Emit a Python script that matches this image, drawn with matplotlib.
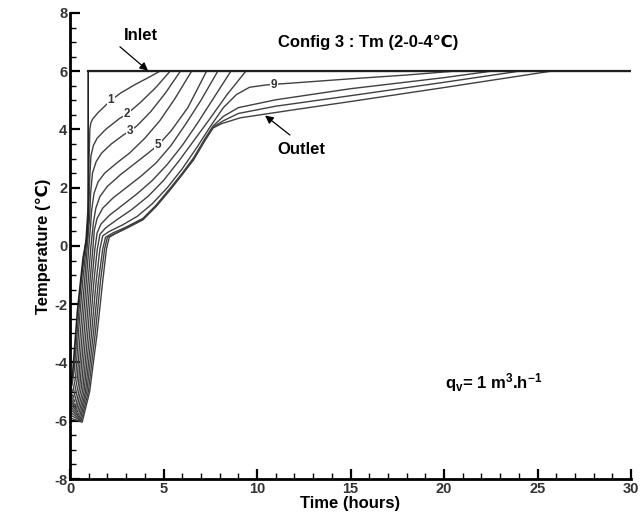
import matplotlib
matplotlib.use('Agg')
import matplotlib.pyplot as plt
from matplotlib.ticker import MultipleLocator

plt.rcParams['font.family'] = ['Liberation Sans', 'DejaVu Sans']
plt.rcParams['font.weight'] = 'bold'
plt.rcParams['axes.unicode_minus'] = False
plt.rcParams['mathtext.fontset'] = 'custom'
plt.rcParams['mathtext.rm'] = 'Liberation Sans:bold'
plt.rcParams['mathtext.bf'] = 'Liberation Sans:bold'

# inlet temperature
inlet_t = [0, 0.15, 0.4, 0.7, 0.9, 0.97, 0.97, 30]
inlet_T = [-5.0, -4.3, -2.2, -0.4, 0.3, 1.0, 6.0, 6.0]

# temperatures along the exchanger, first one after the inlet ... outlet
curve_t = [
    [0, 0.1, 0.22, 0.38, 0.6, 0.85, 0.98, 1.02, 1.06, 1.11, 1.2, 1.5, 2.1, 2.7, 3.5, 4.3, 4.8, 30],
    [0, 0.15, 0.3, 0.45, 0.68, 0.9, 1.0, 1.05, 1.12, 1.25, 1.45, 1.9, 2.67, 3.03, 3.8, 4.6, 5.35, 30],
    [0, 0.2, 0.38, 0.55, 0.78, 0.95, 1.05, 1.1, 1.2, 1.4, 1.69, 2.2, 2.85, 3.2, 3.57, 4.3, 5.1, 5.9, 30],
    [0, 0.25, 0.45, 0.65, 0.87, 1.02, 1.1, 1.15, 1.28, 1.5, 1.85, 2.5, 3.2, 4.0, 4.8, 5.6, 6.5, 30],
    [0, 0.3, 0.52, 0.75, 0.97, 1.12, 1.2, 1.25, 1.38, 1.6, 2.0, 2.7, 3.5, 4.1, 4.72, 5.4, 6.3, 7.3, 30],
    [0, 0.35, 0.6, 0.85, 1.07, 1.22, 1.3, 1.45, 1.75, 2.3, 3.0, 3.8, 4.6, 5.4, 6.2, 7.0, 7.9, 30],
    [0, 0.4, 0.68, 0.95, 1.17, 1.33, 1.45, 1.65, 2.1, 2.8, 3.6, 4.4, 5.2, 6.0, 6.8, 7.7, 8.6, 30],
    [0, 0.45, 0.75, 1.05, 1.28, 1.46, 1.6, 1.9, 2.5, 3.3, 4.2, 5.0, 5.8, 6.6, 7.4, 8.4, 9.4, 30],
    [0, 0.5, 0.83, 1.15, 1.4, 1.6, 1.75, 2.1, 2.8, 3.6, 4.4, 5.2, 6.0, 6.8, 7.5, 8.2, 8.9, 9.6,
     10.5, 12, 15, 18, 20.5, 30],
    [0, 0.55, 0.9, 1.25, 1.52, 1.75, 1.9, 2.3, 3.0, 3.9, 4.6, 5.35, 6.0, 6.6, 7.2, 7.65, 8.2, 9.0,
     11, 15, 20, 22.5, 30],
    [0, 0.6, 0.98, 1.35, 1.63, 1.85, 2.0, 2.35, 3.0, 3.9, 4.6, 5.35, 6.0, 6.6, 7.2, 7.65, 8.2, 9.0,
     11, 15, 20, 24, 30],
    [0, 0.65, 1.05, 1.45, 1.75, 1.95, 2.1, 2.4, 3.0, 3.9, 4.6, 5.35, 6.0, 6.6, 7.2, 7.65, 8.1, 9.1,
     12, 15, 20, 25.7, 30],
]
curve_T = [
    [-4.7, -4.8, -4.3, -3.0, -1.2, 0.2, 1.5, 3.0, 4.0, 4.22, 4.35, 4.58, 4.95, 5.25, 5.55, 5.82, 6.0, 6.0],
    [-4.85, -5.0, -4.5, -3.0, -1.2, 0.2, 1.2, 2.3, 3.1, 3.45, 3.7, 4.0, 4.39, 4.52, 4.95, 5.45, 6.0, 6.0],
    [-5.0, -5.2, -4.6, -3.0, -1.2, 0.2, 1.0, 1.8, 2.5, 2.9, 3.19, 3.5, 3.81, 3.95, 4.12, 4.6, 5.25, 6.0, 6.0],
    [-5.1, -5.35, -4.75, -3.0, -1.2, 0.1, 0.7, 1.2, 1.8, 2.2, 2.5, 2.85, 3.2, 3.7, 4.3, 5.05, 6.0, 6.0],
    [-5.2, -5.5, -4.85, -3.0, -1.2, 0.0, 0.5, 0.8, 1.3, 1.7, 2.05, 2.45, 2.85, 3.15, 3.47, 3.95, 4.75, 6.0, 6.0],
    [-5.3, -5.6, -4.9, -3.0, -1.2, -0.1, 0.55, 0.95, 1.3, 1.65, 2.0, 2.4, 2.85, 3.45, 4.2, 5.0, 6.0, 6.0],
    [-5.4, -5.7, -4.95, -3.0, -1.2, -0.1, 0.45, 0.75, 1.05, 1.4, 1.8, 2.25, 2.8, 3.45, 4.2, 5.1, 6.0, 6.0],
    [-5.5, -5.8, -5.0, -3.0, -1.2, -0.1, 0.4, 0.62, 0.9, 1.25, 1.72, 2.25, 2.9, 3.6, 4.3, 5.2, 6.0, 6.0],
    [-5.6, -5.88, -5.0, -3.0, -1.2, -0.1, 0.35, 0.5, 0.72, 1.02, 1.45, 2.0, 2.65, 3.4, 4.1, 4.75, 5.2, 5.45,
     5.53, 5.6, 5.74, 5.87, 6.0, 6.0],
    [-5.7, -5.95, -5.0, -3.0, -1.2, -0.1, 0.3, 0.45, 0.65, 0.95, 1.4, 1.98, 2.5, 3.02, 3.67, 4.12, 4.45, 4.75,
     5.02, 5.4, 5.78, 6.0, 6.0],
    [-5.8, -6.0, -5.0, -3.0, -1.2, -0.1, 0.3, 0.4, 0.62, 0.92, 1.37, 1.95, 2.47, 2.98, 3.63, 4.08, 4.3, 4.55,
     4.8, 5.16, 5.62, 6.0, 6.0],
    [-5.9, -6.05, -5.0, -3.0, -1.2, -0.1, 0.3, 0.42, 0.6, 0.9, 1.35, 1.92, 2.45, 2.95, 3.6, 4.05, 4.2, 4.4,
     4.68, 4.96, 5.44, 6.0, 6.0],
]

# numbers written on some of the curves
label_text = ['1', '2', '3', '5', '9']
label_t = [2.17, 3.03, 3.2, 4.72, 10.9]
label_T = [5.02, 4.52, 3.95, 3.47, 5.52]

fig = plt.figure(figsize=(6.4, 5.28), dpi=100)
ax = fig.add_axes([0.1094, 0.0928, 0.8766, 0.8826])

for t, T in zip(curve_t, curve_T):
    ax.plot(t, T, color='#404040', lw=1.0)
ax.plot(inlet_t, inlet_T, color='#202020', lw=1.2)
ax.plot(inlet_t[-2:], inlet_T[-2:], color='#202020', lw=1.6)

for s, t, T in zip(label_text, label_t, label_T):
    ax.text(t, T, s, fontsize=8.5, fontweight='bold', ha='center', va='center',
            color='#333333',
            bbox=dict(facecolor='white', edgecolor='none', pad=0.5))

arrow = dict(arrowstyle='-|>', color='k', lw=0.9, mutation_scale=12,
             shrinkA=0, shrinkB=0)
ax.text(2.9, 7.22, 'Inlet', fontsize=12, fontweight='bold', ha='left', va='center')
ax.annotate('', xy=(4.17, 6.02), xytext=(2.67, 6.84), arrowprops=arrow)
ax.text(11.1, 3.33, 'Outlet', fontsize=12, fontweight='bold', ha='left', va='center')
ax.annotate('', xy=(10.43, 4.48), xytext=(11.76, 3.81), arrowprops=arrow)

ax.text(11.1, 7.0, 'Config 3 : Tm (2-0-4\u2103)', fontsize=12, fontweight='bold',
        ha='left', va='center')
ax.text(20.05, -4.7, r'$\mathregular{q_v}$= 1 m$\mathregular{^3}$.h$\mathregular{^{-1}}$',
        fontsize=12, fontweight='bold', ha='left', va='center')

ax.set_xlim(0, 30)
ax.set_ylim(-8, 8)
ax.xaxis.set_major_locator(MultipleLocator(5))
ax.xaxis.set_minor_locator(MultipleLocator(1))
ax.yaxis.set_major_locator(MultipleLocator(2))
ax.yaxis.set_minor_locator(MultipleLocator(0.5))
for side in ['top', 'right']:
    ax.spines[side].set_visible(False)
for side in ['left', 'bottom']:
    ax.spines[side].set_linewidth(2)
ax.tick_params(which='major', direction='in', length=7, width=1.6,
               labelsize=10.5, labelcolor='#333333', pad=2)
ax.tick_params(which='minor', direction='in', length=4, width=1.0)
for lab in ax.get_xticklabels() + ax.get_yticklabels():
    lab.set_fontweight('bold')

ax.set_xlabel('Time (hours)', fontsize=12, fontweight='bold', labelpad=0)
ax.set_ylabel('Temperature (\u2103)', fontsize=12, fontweight='bold', labelpad=2)

fig.savefig('out.png', dpi=100)
